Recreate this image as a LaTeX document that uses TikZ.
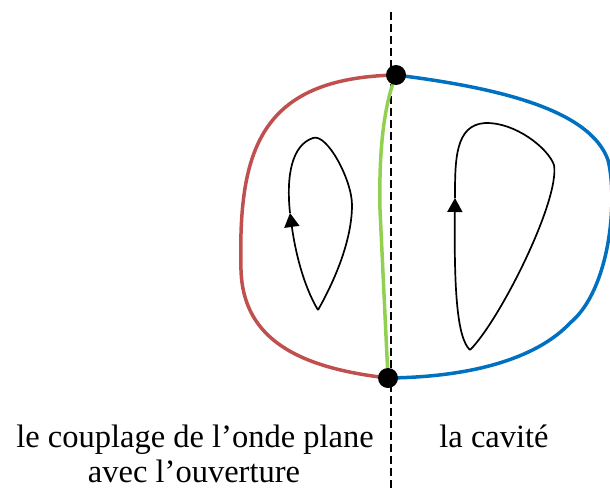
\documentclass[tikz,border=0pt]{standalone}
\usepackage{fontspec}
\setmainfont{Liberation Serif}
\usetikzlibrary{arrows.meta}
\definecolor{cred}{RGB}{192,80,77}
\definecolor{cblue}{RGB}{0,112,192}
\definecolor{cgreen}{RGB}{146,208,80}
\begin{document}
\begin{tikzpicture}[x=1pt,y=-1pt,
  border/.style={line width=3.5pt},
  loopline/.style={line width=1.7pt,black},
  arr/.style={-{Triangle[length=14pt,width=15pt]}},
  dotnode/.style={circle,fill=black,minimum size=20pt,inner sep=0pt},
  axisline/.style={line width=1.3pt,dash pattern=on 8pt off 4pt},
  lbl/.style={font=\fontsize{32.5}{35}\selectfont,anchor=base,inner sep=0pt}]
\useasboundingbox (0,0) rectangle (610,490);
\coordinate (T) at (396,75);
\coordinate (B) at (388,378);
\coordinate (dtop) at (391,12);
\coordinate (dbot) at (391,490);
% dashed separator
\draw[axisline] (dtop) -- (dbot);
% red boundary
\draw[border,cred] (B) .. controls (300,368) and (243,340) .. (241,270)
  .. controls (238,150) and (260,78) .. (T);
% blue boundary
\draw[border,cblue] (T) .. controls (500,88) and (590,110) .. (608,160)
  .. controls (618,200) and (610,290) .. (570,323)
  .. controls (540,355) and (480,377) .. (B);
% green aperture
\draw[border,cgreen] (T) .. controls (382,110) and (379,160) .. (380,210) -- (B);
% left loop
\coordinate (LA) at (318,310);
\coordinate (LB) at (290,213);
\draw[loopline,arr] (LA) .. controls (303,285) and (295,250) .. (LB);
\draw[loopline] (LB) .. controls (286,175) and (292,145) .. (313,138)
  .. controls (327,133) and (352,180) .. (352,205)
  .. controls (352,240) and (335,280) .. (LA);
% right loop
\coordinate (RA) at (470,350);
\coordinate (RB) at (455,198);
\draw[loopline,arr] (RA) .. controls (457,338) and (454,290) .. (RB);
\draw[loopline] (RB) .. controls (455,160) and (455,125) .. (485,123)
  .. controls (515,122) and (548,148) .. (554,165)
  .. controls (560,200) and (500,320) .. (RA);
% dots
\node[dotnode] (top) at (T) {};
\node[dotnode] (bottom) at (B) {};
% labels
\node[lbl] (l1) at (195,447) {le couplage de l’onde plane};
\node[lbl] (l2) at (194,482) {avec l’ouverture};
\node[lbl] (l3) at (494,447) {la cavité};
\end{tikzpicture}
\end{document}
